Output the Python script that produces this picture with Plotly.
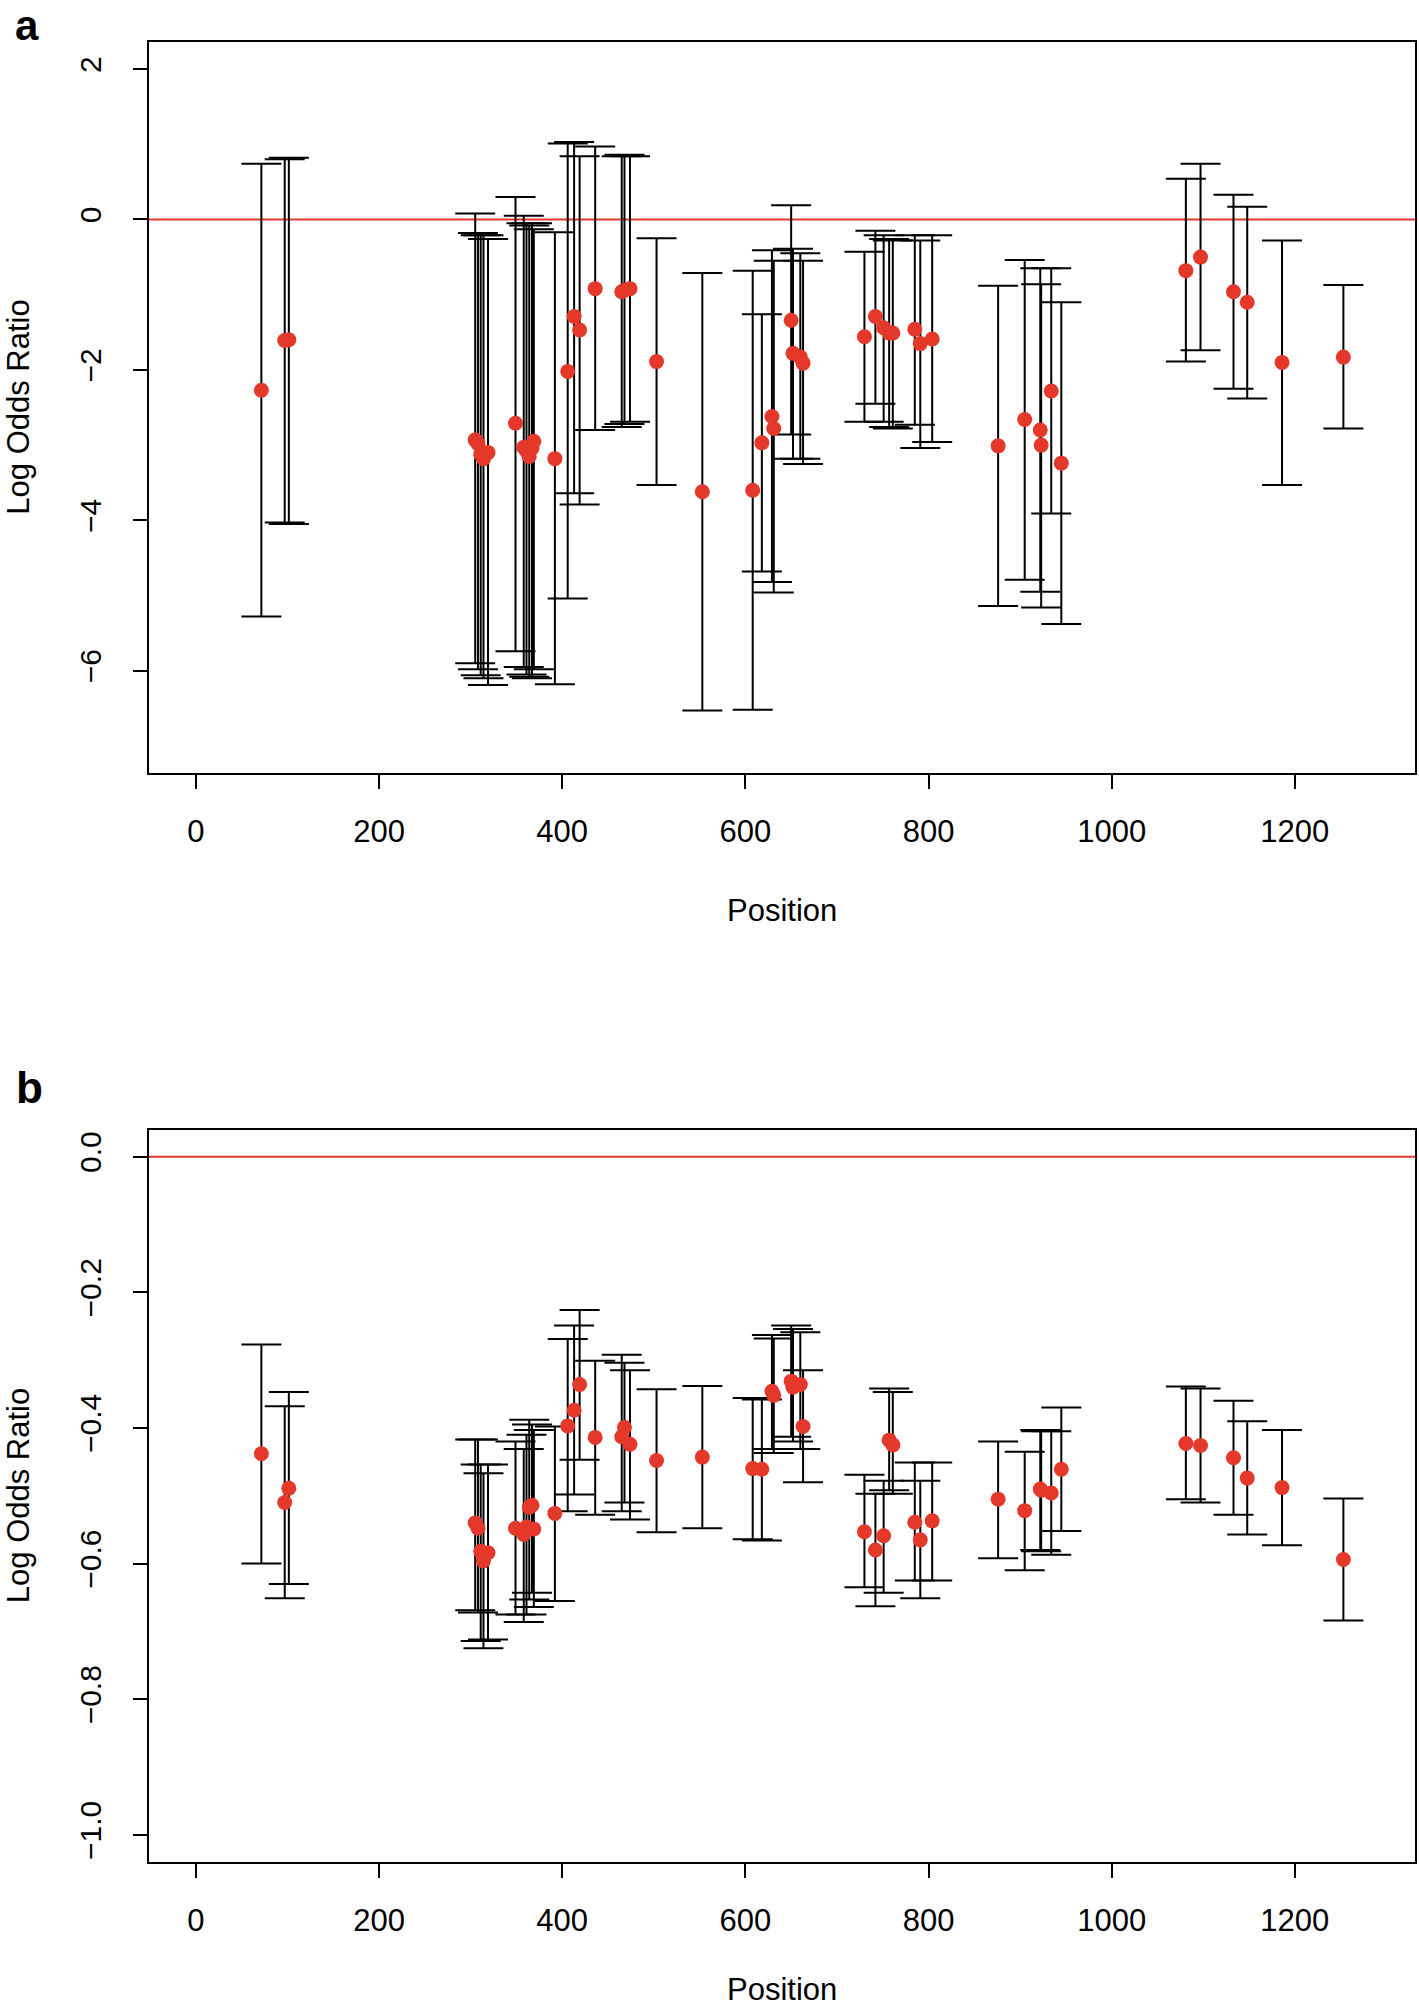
import plotly.graph_objects as go

# ---------------- data ----------------
positions = [71.5, 97, 101.5, 305, 308, 311, 314, 319, 349, 358, 361, 364, 367, 369,
             392, 406, 413, 419, 436, 465, 468, 474, 503, 553, 608, 618, 629, 631,
             650, 652, 660, 663, 730, 742, 751, 757, 761, 785, 791, 804,
             876, 905, 922, 923, 934, 945, 1081, 1097, 1133, 1148, 1186, 1253]

# panel a: estimate, upper CI, lower CI
a_est = [-2.27, -1.61, -1.60, -2.93, -2.98, -3.12, -3.18, -3.10, -2.71, -3.03, -3.08, -3.15, -3.04, -2.95,
         -3.18, -2.02, -1.29, -1.47, -0.92, -0.96, -0.94, -0.92, -1.89, -3.62, -3.60, -2.97, -2.62, -2.78,
         -1.34, -1.78, -1.83, -1.91, -1.56, -1.29, -1.44, -1.51, -1.51, -1.46, -1.65, -1.59,
         -3.01, -2.66, -2.80, -3.00, -2.28, -3.24, -0.68, -0.50, -0.96, -1.10, -1.90, -1.83]
a_upper = [0.74, 0.80, 0.82, 0.08, -0.18, -0.21, -0.21, -0.26, 0.30, 0.05, -0.05, -0.08, -0.05, -0.13,
           -0.17, 1.01, 1.03, 0.84, 0.97, 0.84, 0.86, 0.84, -0.25, -0.71, -0.68, -1.26, -0.41, -0.55,
           0.19, -0.39, -0.45, -0.55, -0.43, -0.15, -0.21, -0.26, -0.28, -0.21, -0.28, -0.21,
           -0.88, -0.54, -0.65, -0.86, -0.65, -1.10, 0.54, 0.74, 0.33, 0.17, -0.28, -0.87]
a_lower = [-5.28, -4.03, -4.05, -5.90, -5.98, -6.06, -6.10, -6.19, -5.74, -5.95, -6.05, -6.08, -6.10, -5.98,
           -6.18, -5.04, -3.64, -3.79, -2.80, -2.76, -2.72, -2.69, -3.53, -6.53, -6.52, -4.68, -4.82, -4.96,
           -2.86, -3.18, -3.18, -3.25, -2.69, -2.45, -2.69, -2.76, -2.78, -2.73, -3.04, -2.96,
           -5.14, -4.79, -4.95, -5.16, -3.91, -5.38, -1.89, -1.74, -2.25, -2.38, -3.53, -2.78]

# panel b: estimate, upper CI, lower CI
b_est = [-0.438, -0.510, -0.489, -0.540, -0.548, -0.582, -0.596, -0.584, -0.548, -0.557, -0.546, -0.517, -0.514, -0.549,
         -0.526, -0.397, -0.374, -0.336, -0.414, -0.413, -0.399, -0.424, -0.448, -0.443, -0.460, -0.461, -0.346, -0.352,
         -0.331, -0.340, -0.336, -0.398, -0.553, -0.580, -0.559, -0.418, -0.425, -0.539, -0.565, -0.537,
         -0.505, -0.522, -0.490, -0.492, -0.496, -0.461, -0.423, -0.426, -0.444, -0.474, -0.488, -0.594]
b_upper = [-0.277, -0.368, -0.347, -0.417, -0.417, -0.454, -0.467, -0.454, -0.420, -0.431, -0.410, -0.388, -0.395, -0.403,
           -0.398, -0.269, -0.249, -0.226, -0.301, -0.292, -0.304, -0.315, -0.343, -0.338, -0.356, -0.358, -0.263, -0.268,
           -0.249, -0.254, -0.259, -0.315, -0.469, -0.497, -0.478, -0.342, -0.347, -0.451, -0.478, -0.451,
           -0.420, -0.435, -0.403, -0.405, -0.405, -0.370, -0.339, -0.342, -0.360, -0.390, -0.403, -0.504]
b_lower = [-0.600, -0.651, -0.630, -0.669, -0.672, -0.714, -0.725, -0.712, -0.675, -0.686, -0.675, -0.653, -0.643, -0.664,
           -0.655, -0.523, -0.498, -0.447, -0.528, -0.523, -0.510, -0.535, -0.554, -0.548, -0.564, -0.566, -0.431, -0.437,
           -0.413, -0.420, -0.431, -0.480, -0.635, -0.663, -0.643, -0.492, -0.497, -0.625, -0.651, -0.625,
           -0.592, -0.610, -0.580, -0.582, -0.587, -0.552, -0.505, -0.510, -0.528, -0.557, -0.573, -0.684]

x_ticks = [0, 200, 400, 600, 800, 1000, 1200]
a_yticks = [-6, -4, -2, 0, 2]
b_yticks = [-1.0, -0.8, -0.6, -0.4, -0.2, 0.0]

# ---------------- style ----------------
RED = "#E3382A"
FONT = "Liberation Sans, Arial, Helvetica, sans-serif"

W, H = 1419, 2010
ML, MR, MT, MB = 149, 2, 42, 148
plot_h = H - MT - MB
# pixel rows of panel boxes
a_top, a_bot = 42, 773
b_top, b_bot = 1129.5, 1862


def py(pix):
    return (H - MB - pix) / plot_h


def px(pix):
    return (pix - ML) / (W - ML - MR)


fig = go.Figure()

for est, up, lo, xa, ya in [(a_est, a_upper, a_lower, "x", "y"),
                             (b_est, b_upper, b_lower, "x2", "y2")]:
    plus = [u - e for u, e in zip(up, est)]
    minus = [e - l for e, l in zip(est, lo)]
    fig.add_trace(go.Scatter(
        x=positions, y=est, mode="markers", xaxis=xa, yaxis=ya,
        marker=dict(color=RED, size=15, line=dict(width=0)),
        error_y=dict(type="data", symmetric=False, array=plus, arrayminus=minus,
                     color="black", thickness=2, width=20),
        showlegend=False, hoverinfo="skip"))

common_x = dict(range=[-51.2, 1331.2], tickvals=x_ticks, ticks="outside", ticklen=14,
                tickwidth=2, tickcolor="black", showline=True, linecolor="black",
                linewidth=2, mirror=True, showgrid=False, zeroline=False,
                tickfont=dict(family=FONT, size=31, color="black"),
                ticklabelstandoff=16)
common_y = dict(ticks="outside", ticklen=14, tickwidth=2, tickcolor="black",
                showline=True, linecolor="black", linewidth=2, mirror=True,
                showgrid=False, zeroline=False, tickangle=-90,
                tickfont=dict(family=FONT, size=30, color="black"),
                ticklabelstandoff=20)

fig.update_layout(
    width=W, height=H,
    margin=dict(l=ML, r=MR, t=MT, b=MB),
    paper_bgcolor="white", plot_bgcolor="white",
    xaxis=dict(common_x, domain=[0, 1], anchor="y"),
    yaxis=dict(common_y, domain=[py(a_bot), py(a_top)], range=[-7.36, 2.36],
               tickvals=a_yticks, anchor="x"),
    xaxis2=dict(common_x, domain=[0, 1], anchor="y2"),
    yaxis2=dict(common_y, domain=[py(b_bot), py(b_top)], range=[-1.04, 0.04],
                tickvals=b_yticks, tickformat=".1f", anchor="x2"),
    shapes=[
        dict(type="line", xref="x domain", yref="y", x0=0, x1=1, y0=0, y1=0,
             line=dict(color=RED, width=2), layer="below"),
        dict(type="line", xref="x2 domain", yref="y2", x0=0, x1=1, y0=0, y1=0,
             line=dict(color=RED, width=2), layer="below"),
    ],
    annotations=[
        dict(text="Position", xref="paper", yref="paper", x=0.5, y=py(910),
             xanchor="center", yanchor="middle", showarrow=False,
             font=dict(family=FONT, size=31, color="black")),
        dict(text="Position", xref="paper", yref="paper", x=0.5, y=py(1989),
             xanchor="center", yanchor="middle", showarrow=False,
             font=dict(family=FONT, size=31, color="black")),
        dict(text="Log Odds Ratio", xref="paper", yref="paper", x=px(18), y=py(407.5),
             xanchor="center", yanchor="middle", textangle=-90, showarrow=False,
             font=dict(family=FONT, size=31, color="black")),
        dict(text="Log Odds Ratio", xref="paper", yref="paper", x=px(18), y=py(1496),
             xanchor="center", yanchor="middle", textangle=-90, showarrow=False,
             font=dict(family=FONT, size=31, color="black")),
        dict(text="<b>a</b>", xref="paper", yref="paper", x=px(14), y=py(1),
             xanchor="left", yanchor="top", showarrow=False, borderpad=0,
             font=dict(family=FONT, size=42, color="black")),
        dict(text="<b>b</b>", xref="paper", yref="paper", x=px(14), y=py(1087),
             xanchor="left", yanchor="middle", showarrow=False,
             font=dict(family=FONT, size=44, color="black")),
    ],
)

fig.write_html("out.html", post_script="document.body.style.margin='0px';",
               config={"displayModeBar": False})
